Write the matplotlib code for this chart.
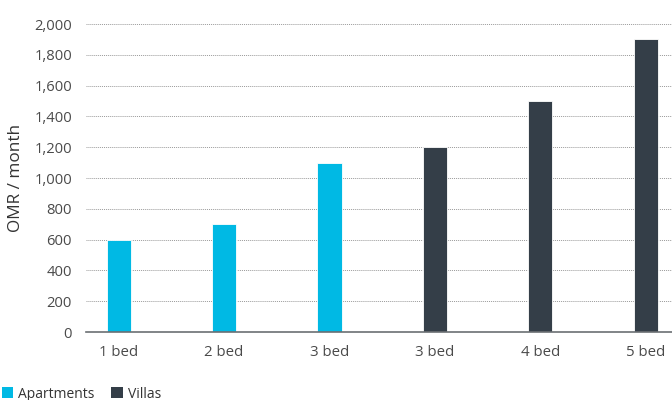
import matplotlib
matplotlib.use("Agg")
import matplotlib.pyplot as plt
from matplotlib.patches import Patch

plt.rcParams['font.family'] = ['Open Sans', 'DejaVu Sans']

categories = ["1 bed", "2 bed", "3 bed", "3 bed", "4 bed", "5 bed"]
values = [600, 700, 1100, 1200, 1500, 1900]
types = ["Apartments", "Apartments", "Apartments", "Villas", "Villas", "Villas"]
colors_map = {"Apartments": "#00B9E4", "Villas": "#343E48"}
yticks = [0, 200, 400, 600, 800, 1000, 1200, 1400, 1600, 1800, 2000]

fig = plt.figure(figsize=(6.72, 4.0), dpi=100)
ax = fig.add_axes([86/672, 1 - 332/400, 1 - 86/672, 308/400])

x = list(range(len(categories)))
ax.bar(x, values, width=0.23, color=[colors_map[t] for t in types],
       edgecolor="white", linewidth=0.6, zorder=3)

ax.set_xlim(-0.31, 5.25)
ax.set_ylim(0, 2000)
ax.set_yticks(yticks)
ax.set_yticklabels([f"{v:,}" for v in yticks], color="#4a4a4a", fontsize=10.6)
ax.set_xticks(x)
ax.set_xticklabels(categories, color="#4a4a4a", fontsize=10.8)
ax.tick_params(axis="both", length=0)
ax.tick_params(axis="y", pad=10)
ax.tick_params(axis="x", pad=9)

ax.grid(axis="y", color="#9a9a9a", linestyle=(0, (1, 1)), linewidth=0.7, zorder=0)
for s in ["top", "right", "left"]:
    ax.spines[s].set_visible(False)
ax.spines["bottom"].set_color("#6b6f73")
ax.spines["bottom"].set_linewidth(1.2)
ax.spines["bottom"].set_zorder(4)

fig.text(16/672, 1 - 178/400, "OMR / month", rotation=90, ha="center", va="center",
         fontsize=12.3, color="#333333")

handles = [Patch(facecolor=colors_map["Apartments"]), Patch(facecolor=colors_map["Villas"])]
fig.legend(handles, ["Apartments", "Villas"], loc="lower left", bbox_to_anchor=(-0.016, -0.035),
           ncol=2, frameon=False, fontsize=10, handlelength=0.8, handleheight=0.8,
           handletextpad=0.4, columnspacing=1.2, labelcolor="#333333")

fig.savefig("out.png", dpi=100)
